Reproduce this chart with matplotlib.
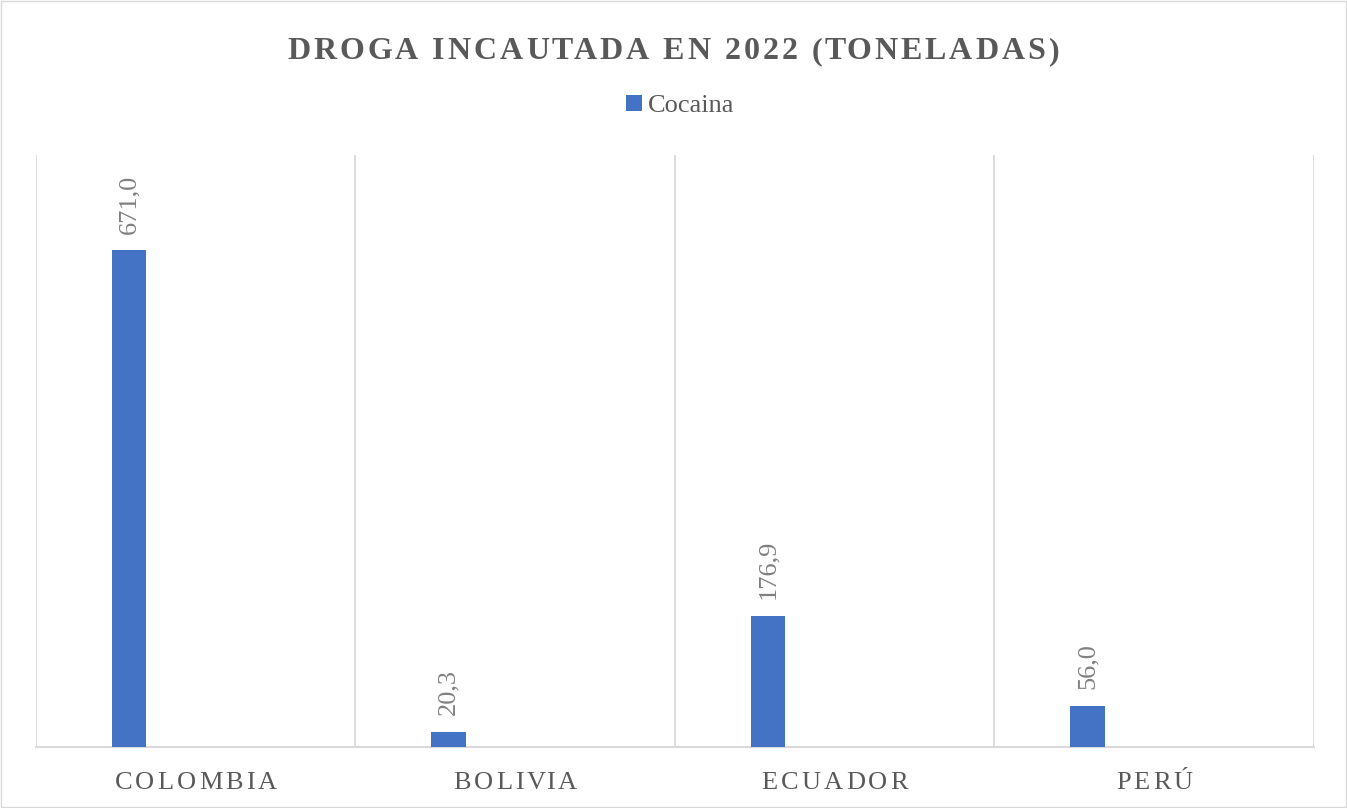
import matplotlib.pyplot as plt
from matplotlib.transforms import IdentityTransform
from matplotlib.patches import Rectangle

paises = ["COLOMBIA", "BOLIVIA", "ECUADOR", "PERÚ"]
cocaina = [671.0, 20.3, 176.9, 56.0]
serie = "Cocaina"
titulo = "DROGA INCAUTADA EN 2022 (TONELADAS)"

plt.rcParams['font.family'] = ['Liberation Serif', 'DejaVu Serif']
gris = '#595959'

fig = plt.figure(figsize=(13.47, 8.08), dpi=100)
ax = fig.add_axes([0.0267, 0.0755, 0.9488, 0.7327])


def char_w(ch, **kw):
    # advance width of one character in pixels
    r = fig.canvas.get_renderer()
    t = fig.text(0, 0, "a" + ch + "a", **kw)
    w = t.get_window_extent(r).width
    t.set_text("aa")
    w -= t.get_window_extent(r).width
    t.remove()
    return w


def spaced_text(xc, y, s, spacing, **kw):
    # letter-spaced text centred on xc (pixels), baseline at y (pixels)
    widths = [char_w(ch, **kw) for ch in s]
    total = sum(widths) + spacing * (len(s) - 1)
    x0 = xc - total / 2
    for ch, w in zip(s, widths):
        fig.text(x0, y, ch, ha='left', va='baseline',
                 transform=IdentityTransform(), **kw)
        x0 += w + spacing


xs = range(len(paises))
pos = [i - 0.209 for i in xs]
bars = ax.bar(pos, cocaina, width=0.109, color='#4472C4', label=serie, zorder=3)
ax.set_xlim(-0.5, 3.5)
ax.set_ylim(0, 800)

for b, v in zip(bars, cocaina):
    ax.annotate(f"{v:.1f}".replace('.', ','),
                (b.get_x() + b.get_width() / 2, v),
                xytext=(0, 12), textcoords='offset points',
                rotation=90, ha='center', va='bottom',
                fontsize=19, color='#7f7f7f')

ax.vlines([-0.5, 0.5, 1.5, 2.5, 3.5], 0, 800, color='#d9d9d9', lw=1.3, zorder=1)
for s in ['top', 'left', 'right']:
    ax.spines[s].set_visible(False)
ax.spines['bottom'].set_color('#d9d9d9')
ax.spines['bottom'].set_linewidth(1.5)
ax.set_xticks([])
ax.set_yticks([])

fig.canvas.draw()
for i, p in enumerate(paises):
    xc = ax.transData.transform((i, 0))[0]
    spaced_text(xc, 19, p, 3.1, fontsize=19, color=gris)

spaced_text(673, 749, titulo, 3.0, fontsize=23, fontweight='bold', color=gris)

fig.legend(loc='center', bbox_to_anchor=(0.505, 0.869), frameon=False,
           fontsize=19, handlelength=0.6, handleheight=0.6,
           handletextpad=0.2, labelcolor=gris)

fig.add_artist(Rectangle((1, 1), 1345, 806, transform=IdentityTransform(),
                         fill=False, edgecolor='#d9d9d9', lw=1))

fig.savefig("out.png", dpi=100)
